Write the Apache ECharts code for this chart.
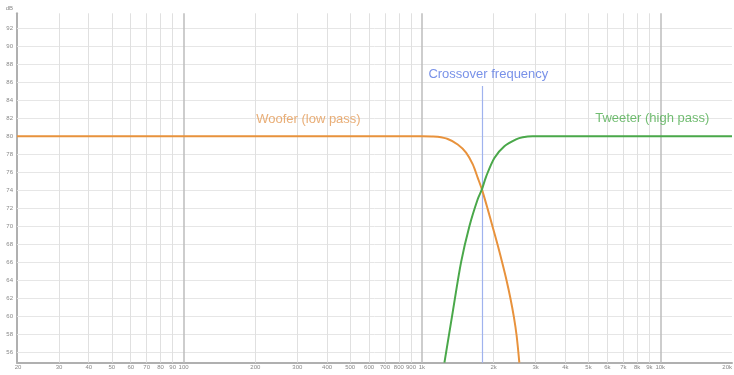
<!DOCTYPE html>
<html>
<head>
<meta charset="utf-8">
<script src="https://cdn.jsdelivr.net/npm/echarts@6/dist/echarts.min.js"></script>
<style>html,body{margin:0;padding:0;background:#fff}#c{width:734px;height:375px}</style>
</head>
<body>
<div id="c"></div>
<script>
// Frequency gridlines / tick labels (Hz)
const minorFreqs = [30,40,50,60,70,80,90,200,300,400,500,600,700,800,900,2000,3000,4000,5000,6000,7000,8000,9000];
const majorFreqs = [100,1000,10000];
const edgeFreqs = [20,20000];
// Level gridlines (dB)
const dbTicks = [56,58,60,62,64,66,68,70,72,74,76,78,80,82,84,86,88,90,92];
// Woofer (low pass) curve
const wooferFreq = [20,100,500,1000,1100,1161,1283,1413,1532,1633,1714,1785,1888,1981,2079,2169,2268,2350,2431,2497,2563];
const wooferDb   = [80,80,80,80,79.98,79.95,79.7,79.1,78.2,76.9,75.4,74.1,71.9,69.9,67.9,66.0,63.9,62.0,59.9,57.8,54.8];
// Tweeter (high pass) curve
const tweeterFreq = [1243,1346,1460,1582,1714,1785,1858,2014,2218,2483,2650,2915,4000,10000,20000];
const tweeterDb   = [54.8,60.4,66.0,70.0,73.0,74.1,75.5,77.6,78.9,79.67,79.9,80,80,80,80];
// Crossover marker
const crossFreq = 1790;
const crossTopDb = 85.6;
// Annotations [freq, dB, text]
const annWoofer = [334, 81.9, 'Woofer (low pass)'];
const annTweeter = [9257, 82.0, 'Tweeter (high pass)'];
const annCross = [1900, 86.9, 'Crossover frequency'];

const yMin = 54.8, yMax = 93.7;
const FONT = 'Liberation Sans, Arial, sans-serif';

function fmtHz(v){ return v >= 1000 ? (v/1000) + 'k' : String(v); }

const gridLineData = [];
dbTicks.forEach(d => gridLineData.push({yAxis: d, lineStyle:{color:'#e6e6e6', width:1, type:'solid'}, label:{show:false}}));
minorFreqs.forEach(f => gridLineData.push({xAxis: f, lineStyle:{color:'#e0e0e0', width:1, type:'solid'}, label:{formatter: fmtHz(f)}}));
majorFreqs.forEach(f => gridLineData.push({xAxis: f, lineStyle:{color:'#bdbdbd', width:1.5, type:'solid'}, label:{formatter: fmtHz(f)}}));
edgeFreqs.forEach(f => gridLineData.push({xAxis: f, lineStyle:{color:'rgba(255,255,255,0)', width:0}, label:{formatter: fmtHz(f), align: f===20000 ? 'right':'center', offset: f===20000 ? [0,0] : [1,0]}}));

const chart = echarts.init(document.getElementById('c'), null, {renderer:'canvas'});
chart.setOption({
  animation: false,
  backgroundColor: '#fff',
  grid: {left: 17, right: 2, top: 13.3, bottom: 12.3},
  xAxis: {
    type: 'log', logBase: 10, min: 20, max: 20000,
    axisLine: {show: true, lineStyle: {color: '#b0b0b0', width: 2}},
    axisTick: {show: false},
    axisLabel: {show: false},
    splitLine: {show: false}
  },
  yAxis: {
    type: 'value', min: yMin, max: yMax, splitNumber: 20,
    name: 'dB', nameLocation: 'end', nameGap: 2,
    nameTextStyle: {fontSize: 6, color: '#888', align: 'right', padding: [0, 4, 0, 0], fontFamily: FONT},
    axisLine: {show: true, lineStyle: {color: '#b0b0b0', width: 2}},
    axisTick: {show: false},
    axisLabel: {fontSize: 6, color: '#888', margin: 4, showMinLabel: false, showMaxLabel: false, fontFamily: FONT},
    splitLine: {show: false}
  },
  series: [
    {
      type: 'line', name: 'grid', data: [], z: 1, silent: true,
      markLine: {
        silent: true, symbol: 'none', animation: false, z: 1,
        label: {show: true, position: 'start', distance: 2, fontSize: 6, color: '#888', fontFamily: FONT},
        data: gridLineData
      }
    },
    {
      type: 'line', name: 'crossover', data: [], z: 2, silent: true,
      markLine: {
        silent: true, symbol: 'none', animation: false, label: {show: false}, z: 2,
        lineStyle: {color: '#9fb2ee', width: 1.2, type: 'solid'},
        data: [[{coord: [crossFreq, crossTopDb]}, {coord: [crossFreq, yMin]}]]
      }
    },
    {
      type: 'line', name: 'Woofer (low pass)', z: 5,
      data: wooferFreq.map((f, i) => [f, wooferDb[i]]),
      showSymbol: false, smooth: 0.3,
      lineStyle: {color: '#e8923c', width: 2}, itemStyle: {color: '#e8923c'}
    },
    {
      type: 'line', name: 'Tweeter (high pass)', z: 5,
      data: tweeterFreq.map((f, i) => [f, tweeterDb[i]]),
      showSymbol: false, smooth: 0.3,
      lineStyle: {color: '#4aa84a', width: 2}, itemStyle: {color: '#4aa84a'}
    },
    {
      type: 'scatter', name: 'labels', z: 10, symbolSize: 0, silent: true,
      label: {show: true, position: 'inside', formatter: '{b}', fontSize: 13, fontFamily: FONT},
      data: [
        {name: annWoofer[2], value: [annWoofer[0], annWoofer[1]], label: {color: '#e39a55'}},
        {name: annTweeter[2], value: [annTweeter[0], annTweeter[1]], label: {color: '#4fad4f'}},
        {name: annCross[2], value: [annCross[0], annCross[1]], label: {color: '#5675e2'}}
      ]
    }
  ]
});
</script>
</body>
</html>
